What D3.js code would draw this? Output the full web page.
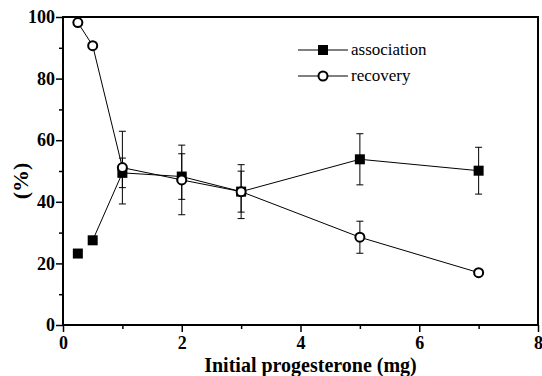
<!DOCTYPE html>
<html><head><meta charset="utf-8">
<script src="https://cdn.jsdelivr.net/npm/d3@7"></script>
<style>body{margin:0;background:#fff}svg{display:block}
svg text{font-family:"Liberation Serif","Times New Roman",serif}</style>
</head><body>
<svg id="c" width="542" height="376"></svg>
<script>
const xValues = [0.25, 0.5, 1, 2, 3, 5, 7];
const associationValues = [23.2, 27.5, 49.4, 48.2, 43.3, 53.8, 50.1];
const associationErr = [null, null, 4.8, 7.4, 6.65, 8.3, 7.6];
const recoveryValues = [98.2, 90.7, 51.1, 47.1, 43.3, 28.5, 17.0];
const recoveryErr = [null, null, 11.8, 11.3, 8.75, 5.2, null];
const xMajorTicks = [0, 2, 4, 6, 8];
const xMinorTicks = [1, 3, 5, 7];
const yMajorTicks = [0, 20, 40, 60, 80, 100];
const yMinorTicks = [10, 30, 50, 70, 90];
const legendLabels = ["association", "recovery"];
const xTitle = "Initial progesterone (mg)";
const yTitle = "(%)";

const svg = d3.select("#c");
const L = 63, R = 538, T = 17, B = 325;
const x = d3.scaleLinear().domain([0, 8]).range([L, R]);
const y = d3.scaleLinear().domain([0, 100]).range([B, T]);
const serif = '"Liberation Serif","Times New Roman",serif';

// axes
const yAx = svg.append("g").attr("transform", `translate(${L},0)`)
  .call(d3.axisLeft(y).tickValues(yMajorTicks).tickSize(7).tickPadding(1).tickFormat(d3.format("d")));
const yAxMin = svg.append("g").attr("transform", `translate(${L},0)`)
  .call(d3.axisLeft(y).tickValues(yMinorTicks).tickSize(4).tickFormat(""));
const xAx = svg.append("g").attr("transform", `translate(0,${B})`)
  .call(d3.axisBottom(x).tickValues(xMajorTicks).tickSize(7).tickPadding(4).tickFormat(d3.format("d")));
const xAxMin = svg.append("g").attr("transform", `translate(0,${B})`)
  .call(d3.axisBottom(x).tickValues(xMinorTicks).tickSize(4).tickFormat(""));
[yAx, yAxMin, xAx, xAxMin].forEach(g => {
  g.attr("font-family", null);
  g.select(".domain").remove();
  g.selectAll(".tick line").attr("stroke", "#000").attr("stroke-width", 1.5);
  g.selectAll(".tick text").style("font-family", serif).style("font-weight", "bold")
    .style("font-size", "18px").attr("fill", "#000");
});

// frame
svg.append("rect").attr("x", L).attr("y", T).attr("width", R - L).attr("height", B - T)
  .attr("fill", "none").attr("stroke", "#000").attr("stroke-width", 2);

// titles
svg.append("text").attr("x", (L + R) / 2 + 10).attr("y", 372).attr("text-anchor", "middle")
  .style("font-family", serif).style("font-weight", "bold").style("font-size", "20px").text(xTitle);
svg.append("text").attr("transform", "translate(28,181) rotate(-90)").attr("text-anchor", "middle")
  .style("font-family", serif).style("font-weight", "bold").style("font-size", "22px").text(yTitle);

const assoc = xValues.map((v, i) => ({x: v, y: associationValues[i], e: associationErr[i]}));
const recov = xValues.map((v, i) => ({x: v, y: recoveryValues[i], e: recoveryErr[i]}));

// error bars
function errBars(data) {
  const g = svg.append("g").attr("stroke", "#000").attr("stroke-width", 1);
  data.filter(d => d.e != null).forEach(d => {
    const cx = x(d.x);
    g.append("line").attr("x1", cx).attr("x2", cx).attr("y1", y(d.y - d.e)).attr("y2", y(d.y + d.e));
    [d.y - d.e, d.y + d.e].forEach(v => g.append("line").attr("x1", cx - 3.5).attr("x2", cx + 3.5)
      .attr("y1", y(v)).attr("y2", y(v)));
  });
}
errBars(assoc);
errBars(recov);

// lines
const line = d3.line().x(d => x(d.x)).y(d => y(d.y));
svg.append("path").datum(assoc.slice(1)).attr("d", line).attr("fill", "none").attr("stroke", "#000").attr("stroke-width", 1);
svg.append("path").datum(recov).attr("d", line).attr("fill", "none").attr("stroke", "#000").attr("stroke-width", 1);

// markers
svg.append("g").selectAll("rect").data(assoc).join("rect")
  .attr("x", d => x(d.x) - 5).attr("y", d => y(d.y) - 5).attr("width", 10).attr("height", 10).attr("fill", "#000");
svg.append("g").selectAll("circle").data(recov).join("circle")
  .attr("cx", d => x(d.x)).attr("cy", d => y(d.y)).attr("r", 4.5)
  .attr("fill", "#fff").attr("stroke", "#000").attr("stroke-width", 2);

// legend
const lg = svg.append("g");
legendLabels.forEach((lab, i) => {
  const ly = 50 + i * 26;
  lg.append("line").attr("x1", 298).attr("x2", 348).attr("y1", ly).attr("y2", ly).attr("stroke", "#000").attr("stroke-width", 1);
  if (i === 0) lg.append("rect").attr("x", 318).attr("y", ly - 5).attr("width", 10).attr("height", 10).attr("fill", "#000");
  else lg.append("circle").attr("cx", 323).attr("cy", ly).attr("r", 4.5).attr("fill", "#fff").attr("stroke", "#000").attr("stroke-width", 2);
  lg.append("text").attr("x", 351).attr("y", ly + 5).style("font-family", serif).style("font-size", "17px").text(lab);
});
</script>
</body></html>
